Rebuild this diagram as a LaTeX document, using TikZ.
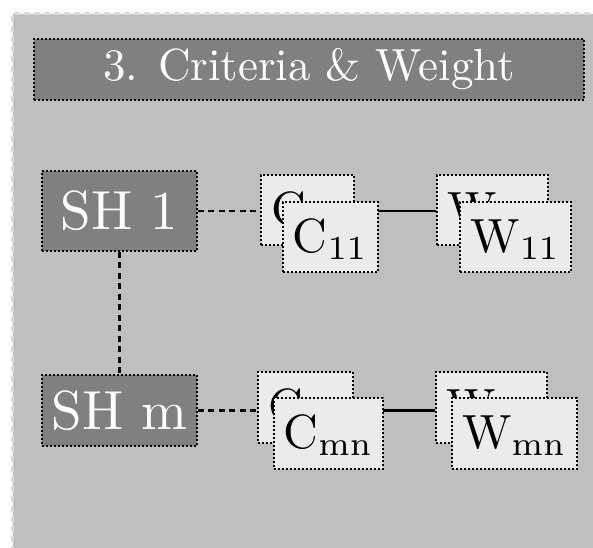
\documentclass[tikz,border=0pt]{standalone}
\usepackage{graphicx}
\newcommand{\shtext}[1]{\scalebox{5.5}{#1}}
\newcommand{\tttext}[1]{\scalebox{4.5}{#1}}
\newcommand{\cwtext}[1]{\scalebox{4.8}{#1}}
\begin{document}
\begin{tikzpicture}[x=1pt,y=-1pt,
  box/.style={draw=black, line width=1.2pt, dash pattern=on 2pt off 2pt, inner sep=0pt, anchor=center, font=\fontsize{10}{12}\selectfont},
  shbox/.style={box, fill=black!50, text=white},
  titlebox/.style={box, fill=black!50, text=white},
  cwbox/.style={box, fill=black!8, text=black, text height=37pt, text depth=7pt},
  backbox/.style={cwbox, align=left, inner xsep=10pt},
  dashconn/.style={line width=2.5pt, dash pattern=on 6pt off 4.5pt},
  solidconn/.style={line width=2.5pt}
]
\useasboundingbox (0,0) rectangle (593,547);
\fill[black!25] (12.5,13.5) rectangle (640,600);
\draw[black!14, line width=2.5pt, dash pattern=on 6pt off 4pt] (640,13.5) -- (12.5,13.5) -- (12.5,600);

\node[titlebox, minimum width=550pt, minimum height=61pt] (title) at (309,69.5) {\tttext{3. Criteria \& Weight}};

\node[shbox, minimum width=155pt, minimum height=80pt] (sh1) at (119.5,211) {\shtext{SH 1}};
\node[shbox, minimum width=155pt, minimum height=71pt] (shm) at (119.5,410.5) {\shtext{SH m}};

% back boxes
\node[backbox, text width=73pt, minimum height=70pt] (c1b) at (307.5,210) {\cwtext{C}};
\node[backbox, text width=91pt, minimum height=70pt] (w1b) at (492.5,210) {\cwtext{W}};
\node[backbox, text width=75pt, minimum height=71pt] (c2b) at (305.5,407.5) {\cwtext{C}};
\node[backbox, text width=91pt, minimum height=71pt] (w2b) at (491.5,407.5) {\cwtext{W}};

% connectors
\draw[dashconn] (sh1.east) -- (sh1.east -| c1b.west);
\draw[solidconn] (sh1.east -| c1b.east) -- (sh1.east -| w1b.west);
\draw[dashconn] (shm.east) -- (shm.east -| c2b.west);
\draw[solidconn] (shm.east -| c2b.east) -- (shm.east -| w2b.west);
\draw[dashconn] (sh1.south) -- (shm.north);

% front boxes
\node[cwbox, minimum width=95pt, minimum height=70pt] (c1f) at (330.5,237) {\cwtext{C$_{11}$}};
\node[cwbox, minimum width=111pt, minimum height=70pt] (w1f) at (515.5,237) {\cwtext{W$_{11}$}};
\node[cwbox, minimum width=109pt, minimum height=71pt] (c2f) at (328.5,433.5) {\cwtext{C$_{\mathrm{mn}}$}};
\node[cwbox, minimum width=125pt, minimum height=71pt] (w2f) at (514.5,433.5) {\cwtext{W$_{\mathrm{mn}}$}};
\end{tikzpicture}
\end{document}
